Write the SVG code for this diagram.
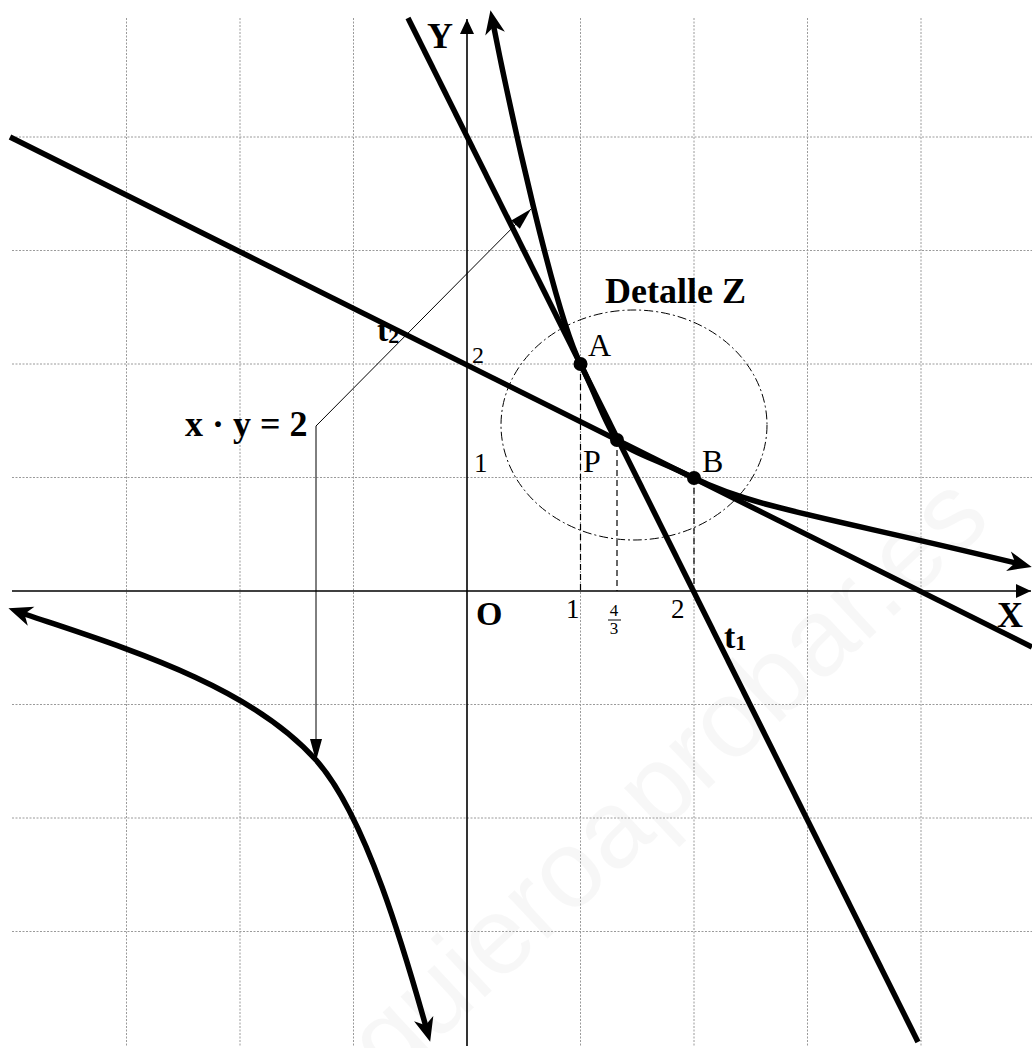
<svg xmlns="http://www.w3.org/2000/svg" width="1032" height="1048" viewBox="0 0 1032 1048">
<style>
.grid{stroke:#9a9a9a;stroke-width:1;stroke-dasharray:2 1.5;fill:none}
.axis{stroke:#000;stroke-width:1.6;fill:none}
.thick{stroke:#000;stroke-width:5.5;fill:none}
.thin{stroke:#000;stroke-width:1;fill:none}
.drop{stroke:#000;stroke-width:1.2;stroke-dasharray:6 4;fill:none}
.ell{stroke:#000;stroke-width:1;stroke-dasharray:9 3 2 3;fill:none}
.bl{font-family:"Liberation Serif","Times New Roman",serif;font-weight:bold;fill:#000}
.rg{font-family:"Liberation Serif","Times New Roman",serif;fill:#000}
</style>
<defs>
<marker id="ax" markerUnits="userSpaceOnUse" markerWidth="30" markerHeight="30" viewBox="-20 -10 30 20" refX="0" refY="0" orient="auto">
<path d="M0,0 L-15,-7 L-15,7 Z" fill="#000"/>
</marker>
<marker id="cv" markerUnits="userSpaceOnUse" markerWidth="40" markerHeight="40" viewBox="-25 -15 40 30" refX="0" refY="0" orient="auto-start-reverse">
<path d="M8,0 L-16,-10 L-9,0 L-16,10 Z" fill="#000"/>
</marker>
<marker id="ld" markerUnits="userSpaceOnUse" markerWidth="30" markerHeight="30" viewBox="-25 -10 30 20" refX="0" refY="0" orient="auto-start-reverse">
<path d="M0,0 L-22,-6 L-22,6 Z" fill="#000"/>
</marker>
</defs>
<rect width="1032" height="1048" fill="#fff"/>
<text x="0" y="0" transform="translate(305,1165) rotate(-43)" font-family="Liberation Sans, sans-serif" font-size="110" fill="#000" fill-opacity="0.03">yoquieroaprobar.es</text>
<g id="grid">
<path class="grid" d="M126.5,18V1046M240,18V1046M353.5,18V1046M580.5,18V1046M694,18V1046M807.5,18V1046M921,18V1046"/>
<path class="grid" d="M12,137H1032M12,250.5H1032M12,364H1032M12,477.5H1032M12,704.5H1032M12,818H1032M12,931.5H1032"/>
</g>
<g id="axes">
<path class="axis" d="M12,591H1031" marker-end="url(#ax)"/>
<path class="axis" d="M467,1046V19" marker-end="url(#ax)"/>
</g>
<g id="connectors">
<path class="drop" d="M580.5,364V591M617,440V591M694,478V591"/>
<path class="thin" d="M316,761V426L531,209" marker-start="url(#ld)" marker-end="url(#ld)"/>
</g>
<ellipse id="detalle" class="ell" cx="634" cy="425" rx="133" ry="115"/>
<g id="t1"><path class="thick" d="M408,18L918,1042"/></g>
<g id="t2"><path class="thick" d="M10,137L1032,647"/></g>
<g id="hyperbola-right">
<path class="thick" d="M492,18C510,110 555,314 580.5,364C594,390 607,429 617,440C628,451 660,461 694,478C754,508 832,518 1024,565" marker-start="url(#cv)" marker-end="url(#cv)"/>
</g>
<g id="hyperbola-left">
<path class="thick" d="M16,611C108,643 246,681 316,760C366,816 405,952 428,1034" marker-start="url(#cv)" marker-end="url(#cv)"/>
</g>
<g id="points">
<circle cx="580.5" cy="364" r="7"/>
<circle cx="617" cy="440" r="7"/>
<circle cx="694" cy="478" r="7"/>
</g>
<g id="labels">
<text class="bl" x="427" y="48" font-size="36">Y</text>
<text class="bl" x="997" y="627" font-size="36">X</text>
<text class="bl" x="476" y="625" font-size="34">O</text>
<text class="rg" x="588" y="356" font-size="32">A</text>
<text class="rg" x="583" y="472" font-size="32">P</text>
<text class="rg" x="702" y="472" font-size="32">B</text>
<text class="rg" x="566" y="618" font-size="27">1</text>
<text class="rg" x="671" y="618" font-size="27">2</text>
<text class="rg" x="614" y="616" font-size="17" text-anchor="middle">4</text>
<path d="M608,620H621" stroke="#000" stroke-width="1"/>
<text class="rg" x="614" y="634" font-size="17" text-anchor="middle">3</text>
<text class="rg" x="474" y="472" font-size="27">1</text>
<text class="rg" x="472" y="363" font-size="24">2</text>
<text class="bl" x="724" y="648" font-size="34">t<tspan font-size="22" dy="2">1</tspan></text>
<text class="bl" x="377" y="341" font-size="34">t<tspan font-size="22" dy="2">2</tspan></text>
<text class="bl" x="605" y="303" font-size="36">Detalle Z</text>
<text class="bl" x="185" y="436" font-size="36">x · y = 2</text>
</g>
</svg>
